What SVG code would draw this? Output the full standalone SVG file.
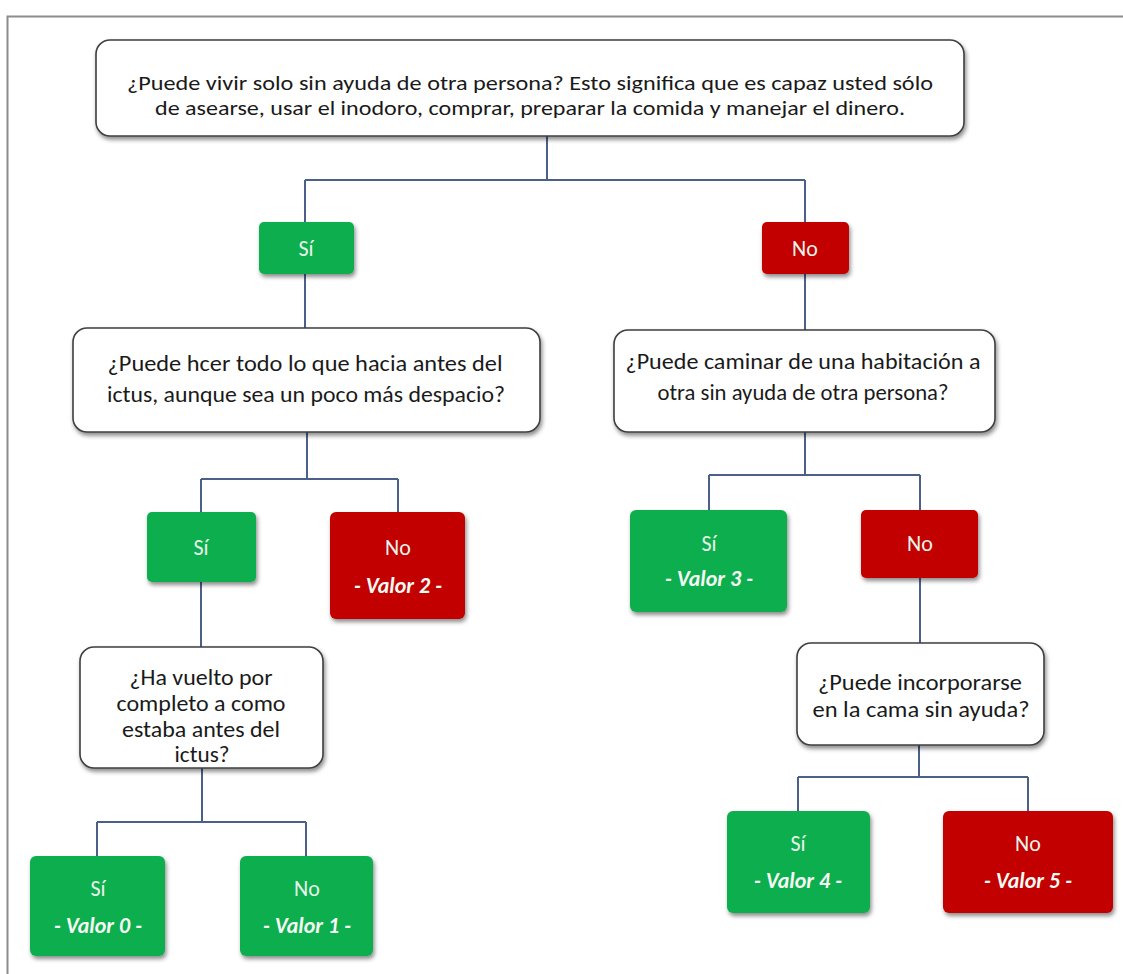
<svg xmlns="http://www.w3.org/2000/svg" width="1123" height="974" viewBox="0 0 1123 974">
  <defs>
    <filter id="shadow" x="-10%" y="-10%" width="125%" height="135%">
      <feDropShadow dx="1.5" dy="3" stdDeviation="2" flood-color="#000" flood-opacity="0.45"/>
    </filter>
    <style>
      .q { fill: #ffffff; stroke: #3f3f3f; stroke-width: 1.6; filter: url(#shadow); }
      .yes { fill: #0cae4e; filter: url(#shadow); }
      .no { fill: #c20000; filter: url(#shadow); }
      .qt { font-family: Carlito, Lato, "Open Sans", sans-serif; font-size: 21px; fill: #1a1a1a; text-anchor: middle; }
      .lab { font-family: Carlito, Lato, "Open Sans", sans-serif; font-size: 22px; fill: #e6f4ea; text-anchor: middle; }
      .val { font-family: Carlito, Lato, "Open Sans", sans-serif; font-size: 22px; font-weight: bold; font-style: italic; fill: #f4faf4; text-anchor: middle; }
      .conn { fill: none; stroke: #4a6089; stroke-width: 2; }
    </style>
  </defs>

  <rect width="1123" height="974" fill="#ffffff"/>
  <!-- outer frame -->
  <path d="M7.5,974 V16.5 H1123" fill="none" stroke="#8c8c8c" stroke-width="2"/>

  <!-- connectors -->
  <g id="connectors" class="conn">
    <path d="M547,136 V180 M305,180 H805 M305,180 V222 M805,180 V222"/>
    <path d="M305,274 V328"/>
    <path d="M805,274 V330"/>
    <path d="M307,432 V479 M201,479 H398 M201,479 V512 M398,479 V512"/>
    <path d="M201,582 V647"/>
    <path d="M805,432 V475 M709,475 H920 M709,475 V510 M920,475 V510"/>
    <path d="M920,578 V643"/>
    <path d="M202,768 V822 M97,822 H306 M97,822 V856 M306,822 V856"/>
    <path d="M919,745 V777 M798,777 H1028 M798,777 V811 M1028,777 V811"/>
  </g>

  <g id="q-vivir-solo">
    <rect class="q" x="96" y="40" width="868" height="96" rx="14"/>
    <text class="qt" x="530" y="90" textLength="806" lengthAdjust="spacingAndGlyphs">¿Puede vivir solo sin ayuda de otra persona? Esto significa que es capaz usted sólo</text>
    <text class="qt" x="530" y="115" textLength="750" lengthAdjust="spacingAndGlyphs">de asearse, usar el inodoro, comprar, preparar la comida y manejar el dinero.</text>
  </g>

  <g id="si-1">
    <rect class="yes" x="259" y="222" width="95" height="52" rx="5"/>
    <text class="lab" x="306" y="256">Sí</text>
  </g>
  <g id="no-1">
    <rect class="no" x="762" y="222" width="87" height="52" rx="5"/>
    <text class="lab" x="805" y="256">No</text>
  </g>

  <g id="q-hacer-todo">
    <rect class="q" x="73" y="328" width="467" height="104" rx="14"/>
    <text class="qt" x="305" y="371" textLength="395" lengthAdjust="spacingAndGlyphs" style="font-size:23px">¿Puede hcer todo lo que hacia antes del</text>
    <text class="qt" x="306" y="402" textLength="398" lengthAdjust="spacingAndGlyphs" style="font-size:23px">ictus, aunque sea un poco más despacio?</text>
  </g>

  <g id="q-caminar">
    <rect class="q" x="614" y="330" width="381" height="102" rx="14"/>
    <text class="qt" x="803" y="369" textLength="355" lengthAdjust="spacingAndGlyphs" style="font-size:23px">¿Puede caminar de una habitación a</text>
    <text class="qt" x="803" y="400" textLength="291" lengthAdjust="spacingAndGlyphs" style="font-size:23px">otra sin ayuda de otra persona?</text>
  </g>

  <g id="si-2">
    <rect class="yes" x="147" y="512" width="109" height="70" rx="5"/>
    <text class="lab" x="201" y="555">Sí</text>
  </g>
  <g id="no-valor-2">
    <rect class="no" x="330" y="512" width="135" height="107" rx="6"/>
    <text class="lab" x="398" y="555">No</text>
    <text class="val" x="398" y="593">- Valor 2 -</text>
  </g>

  <g id="si-valor-3">
    <rect class="yes" x="630" y="510" width="157" height="102" rx="6"/>
    <text class="lab" x="709" y="551">Sí</text>
    <text class="val" x="709" y="586">- Valor 3 -</text>
  </g>
  <g id="no-3">
    <rect class="no" x="861" y="510" width="117" height="68" rx="5"/>
    <text class="lab" x="920" y="551">No</text>
  </g>

  <g id="q-vuelto">
    <rect class="q" x="80" y="647" width="243" height="121" rx="14"/>
    <text class="qt" x="201" y="685" textLength="143" lengthAdjust="spacingAndGlyphs" style="font-size:22px">¿Ha vuelto por</text>
    <text class="qt" x="201" y="711" textLength="169" lengthAdjust="spacingAndGlyphs" style="font-size:22px">completo a como</text>
    <text class="qt" x="201" y="737" textLength="158" lengthAdjust="spacingAndGlyphs" style="font-size:22px">estaba antes del</text>
    <text class="qt" x="202" y="762" textLength="55" lengthAdjust="spacingAndGlyphs" style="font-size:22px">ictus?</text>
  </g>

  <g id="q-incorporarse">
    <rect class="q" x="797" y="643" width="247" height="102" rx="14"/>
    <text class="qt" x="920" y="690" textLength="204" lengthAdjust="spacingAndGlyphs" style="font-size:22px">¿Puede incorporarse</text>
    <text class="qt" x="921" y="717" textLength="217" lengthAdjust="spacingAndGlyphs" style="font-size:22px">en la cama sin ayuda?</text>
  </g>

  <g id="si-valor-0">
    <rect class="yes" x="30" y="856" width="135" height="100" rx="6"/>
    <text class="lab" x="98" y="896">Sí</text>
    <text class="val" x="98" y="933">- Valor 0 -</text>
  </g>
  <g id="no-valor-1">
    <rect class="yes" x="240" y="856" width="133" height="100" rx="6"/>
    <text class="lab" x="307" y="896">No</text>
    <text class="val" x="307" y="933">- Valor 1 -</text>
  </g>

  <g id="si-valor-4">
    <rect class="yes" x="727" y="811" width="143" height="102" rx="6"/>
    <text class="lab" x="798" y="851">Sí</text>
    <text class="val" x="798" y="888">- Valor 4 -</text>
  </g>
  <g id="no-valor-5">
    <rect class="no" x="943" y="811" width="170" height="102" rx="6"/>
    <text class="lab" x="1028" y="851">No</text>
    <text class="val" x="1028" y="888">- Valor 5 -</text>
  </g>
</svg>
